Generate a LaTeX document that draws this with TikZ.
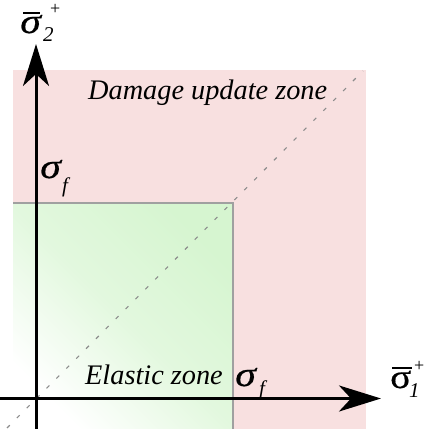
\documentclass[tikz,border=0pt]{standalone}
\usepackage{fontspec}
\setmainfont{Liberation Serif}
\newfontface\sigit{Liberation Serif Italic}[FakeBold=0.5]
\newfontface\sigup{Liberation Serif}[FakeBold=0.5]
\usetikzlibrary{arrows.meta}
\definecolor{pinkzone}{RGB}{248,224,224}
\definecolor{greenzone}{RGB}{214,245,208}
\definecolor{edgegray}{RGB}{160,160,160}
\definecolor{diaggray}{RGB}{140,140,140}
\begin{document}
\begin{tikzpicture}[x=1pt,y=1pt,
  lbl/.style={inner sep=0pt, anchor=base west},
  axisline/.style={line width=3pt, -{Stealth[length=42pt,width=26pt,inset=12pt]}},
  barline/.style={line width=1.8pt},
  sig/.style={font=\sigit\fontsize{35}{35}\selectfont, xscale=1.2},
  sub/.style={font=\itshape\fontsize{21}{21}\selectfont},
  sup/.style={font=\fontsize{18}{18}\selectfont},
  zonetext/.style={font=\itshape\fontsize{28.3}{28.3}\selectfont}]
\useasboundingbox (0,0) rectangle (428,429);
% zones
\fill[pinkzone] (13,0) rectangle (366,359);
\shade[top color=greenzone, bottom color=white, middle color=greenzone!70!white, shading angle=-45] (13,0) rectangle (233,226);
\draw[edgegray, line width=1.5pt] (13,226) -- (233,226) -- (233,0);
\draw[diaggray, dash pattern=on 4pt off 10pt, line width=1.1pt] (7,1) -- (363,358);
% axes
\coordinate (xs) at (0,30.5);
\coordinate (xe) at (381,30.5);
\coordinate (ys) at (36,0);
\coordinate (ye) at (36,385);
\draw[axisline] (xs) -- (xe);
\draw[axisline] (ys) -- (ye);
% zone labels
\node[lbl, zonetext] (dmg) at (88,329) {Damage update zone};
\node[lbl, zonetext] (ela) at (85,44) {Elastic zone};
% sigma_f left
\node[lbl, sig] (sfl) at (40,251) {σ};
\node[lbl, sub] (sfls) at (62,236) {f};
% sigma_f bottom
\node[lbl, sig] (sfb) at (235,43) {σ};
\node[lbl, sub] (sfbs) at (259,34) {f};
% sigma2 bar
\node[lbl, sig] (s2) at (20,396) {σ};
\draw[barline] (23,416) -- (40,416);
\node[lbl, sub] (s2sub) at (43,387) {2};
\node[lbl, sup] (s2sup) at (50,414) {+};
% sigma1 bar
\node[lbl, font=\sigup\fontsize{34}{34}\selectfont, xscale=1.15] (s1) at (390,41) {σ};
\draw[barline] (392,61) -- (412,61);
\node[lbl, sub] (s1sub) at (409,31) {1};
\node[lbl, sup] (s1sup) at (414,57) {+};
\end{tikzpicture}
\end{document}
